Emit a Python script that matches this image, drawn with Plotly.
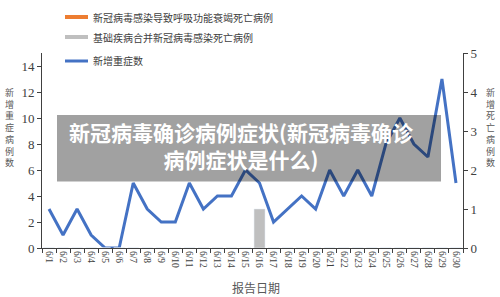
import plotly.graph_objects as go

dates = [f"6/{d}" for d in range(1, 31)]
severe_new = [3, 1, 3, 1, 0, 0, 5, 3, 2, 2, 5, 3, 4, 4, 6, 5, 2, 3, 4, 3, 6, 4, 6, 4, 8, 10, 8, 7, 13, 5]
death_resp = [0] * 30
death_basic = [0] * 15 + [1] + [0] * 14

legend_names = ["新冠病毒感染导致呼吸功能衰竭死亡病例", "基础疾病合并新冠病毒感染死亡病例", "新增重症数"]
left_title = "新增重症病例数"
right_title = "新增死亡病例数"
x_title = "报告日期"
overlay_title = "新冠病毒确诊病例症状(新冠病毒确诊<br>病例症状是什么)"

ORANGE = "#ED7D31"
GREY = "#BFBFBF"
BLUE = "#4472C4"

# pixel -> paper helpers (plot area: x 42..463, y 53..248)
L, R, T, B = 42, 463, 53, 248
def xp(px):
    return (px - L) / (R - L)
def yp(py):
    return (B - py) / (B - T)

fig = go.Figure()
fig.add_trace(go.Bar(x=dates, y=death_resp, name=legend_names[0], marker_color=ORANGE,
                     yaxis="y2", width=0.78, showlegend=False))
fig.add_trace(go.Bar(x=dates, y=death_basic, name=legend_names[1], marker_color=GREY,
                     yaxis="y2", width=0.78, showlegend=False))
fig.add_trace(go.Scatter(x=dates, y=severe_new, name=legend_names[2], mode="lines",
                         line=dict(color=BLUE, width=3), showlegend=False))

tickfont = dict(family="Liberation Serif", size=13, color="#404040")
fig.update_layout(
    width=500, height=297,
    margin=dict(l=L, r=500 - R, t=T, b=297 - B, pad=0),
    paper_bgcolor="white", plot_bgcolor="white",
    barmode="overlay",
    xaxis=dict(type="category", tickangle=90, tickson="boundaries", ticks="outside", ticklen=4,
               tickcolor="#404040", showline=True, linecolor="#404040", linewidth=1,
               showgrid=False, zeroline=False,
               tickfont=dict(family="Liberation Serif", size=9.5, color="#404040")),
    yaxis=dict(range=[0, 15], dtick=2, ticks="outside", ticklen=4, tickcolor="#404040",
               showline=True, linecolor="#404040", linewidth=1, showgrid=False, zeroline=False,
               tickfont=tickfont),
    yaxis2=dict(range=[0, 5], dtick=1, overlaying="y", side="right", ticks="outside", ticklen=4,
                tickcolor="#404040", showline=True, linecolor="#404040", linewidth=1,
                showgrid=False, zeroline=False, tickfont=tickfont),
    font=dict(family="Noto Sans CJK SC"),
)

shapes = []
annotations = []
# manual legend
leg_rows = [(17, ORANGE, 4), (37, GREY, 4), (61, BLUE, 3)]
for (py, col, w), name in zip(leg_rows, legend_names):
    shapes.append(dict(type="line", xref="paper", yref="paper", x0=xp(65), x1=xp(88),
                       y0=yp(py), y1=yp(py), line=dict(color=col, width=w)))
    annotations.append(dict(xref="paper", yref="paper", x=xp(91), y=yp(py), text=name,
                            showarrow=False, xanchor="left", yanchor="middle",
                            font=dict(family="Noto Sans CJK SC", size=10, color="#404040")))

# overlay banner
shapes.append(dict(type="rect", xref="paper", yref="paper", x0=xp(57), x1=xp(441),
                   y0=yp(181.5), y1=yp(115), fillcolor="rgba(0,0,0,0.37)",
                   line=dict(width=0), layer="above"))
annotations.append(dict(xref="paper", yref="paper", x=xp(241), y=yp(145), text=overlay_title,
                        showarrow=False, xanchor="center", yanchor="middle", align="center",
                        font=dict(family="Noto Sans CJK SC", size=21, color="white", weight="bold")))

# vertical axis titles (stacked characters)
annotations.append(dict(xref="paper", yref="paper", x=xp(9), y=yp(127.5), text="<br>".join(left_title),
                        showarrow=False, xanchor="center", yanchor="middle", align="center",
                        font=dict(family="Noto Sans CJK SC", size=9, color="#595959")))
annotations.append(dict(xref="paper", yref="paper", x=xp(490), y=yp(127), text="<br>".join(right_title),
                        showarrow=False, xanchor="center", yanchor="middle", align="center",
                        font=dict(family="Noto Sans CJK SC", size=9, color="#595959")))
annotations.append(dict(xref="paper", yref="paper", x=xp(256), y=yp(287), text=x_title,
                        showarrow=False, xanchor="center", yanchor="middle",
                        font=dict(family="Noto Sans CJK SC", size=12, color="#595959")))

fig.update_layout(shapes=shapes, annotations=annotations)
fig.write_html("out.html")
